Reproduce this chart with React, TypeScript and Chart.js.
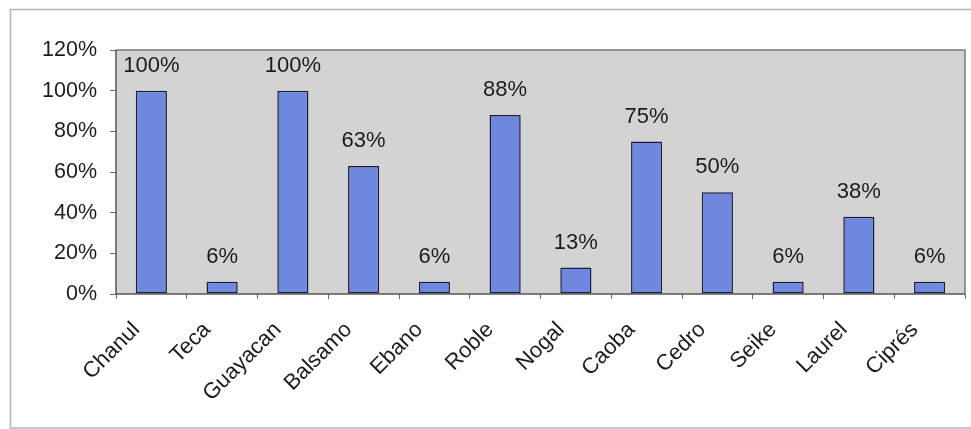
import React, { useEffect, useRef } from "react";
import { Chart, registerables } from "chart.js";

Chart.register(...registerables);

// Share of each species (percent)
const species = [
  "Chanul", "Teca", "Guayacan", "Balsamo", "Ebano", "Roble",
  "Nogal", "Caoba", "Cedro", "Seike", "Laurel", "Ciprés",
];
const shares = [100, 6, 100, 63, 6, 88, 13, 75, 50, 6, 38, 6];
const yTicks = [0, 20, 40, 60, 80, 100, 120];

const FONT = "'Liberation Sans', Arial, sans-serif";
const TEXT = "#1c1c1c";

// Page frame, grey plot background and plot border
const framePlugin = {
  id: "frame",
  beforeDraw(chart: any) {
    const { ctx, chartArea: a } = chart;
    ctx.save();
    ctx.fillStyle = "#ffffff";
    ctx.fillRect(0, 0, chart.width, chart.height);
    ctx.strokeStyle = "#b4b4b4";
    ctx.lineWidth = 1.5;
    ctx.strokeRect(10.5, 9.5, chart.width + 20, chart.height - 10.5);
    ctx.fillStyle = "#d3d3d3";
    ctx.fillRect(a.left, a.top, a.right - a.left, a.bottom - a.top);
    ctx.restore();
  },
  afterDatasetsDraw(chart: any) {
    const { ctx, chartArea: a } = chart;
    ctx.save();
    ctx.strokeStyle = "#7a7a7a";
    ctx.lineWidth = 1.5;
    ctx.beginPath();
    ctx.moveTo(a.left, a.top);
    ctx.lineTo(a.right, a.top);
    ctx.lineTo(a.right, a.bottom);
    ctx.stroke();
    ctx.strokeStyle = "#555555";
    ctx.beginPath();
    ctx.moveTo(a.left, a.top);
    ctx.lineTo(a.left, a.bottom);
    ctx.lineTo(a.right, a.bottom);
    ctx.stroke();
    ctx.restore();
  },
};

// Percent labels above each bar
const valueLabels = {
  id: "valueLabels",
  afterDatasetsDraw(chart: any) {
    const { ctx } = chart;
    const meta = chart.getDatasetMeta(0);
    ctx.save();
    ctx.font = `22px ${FONT}`;
    ctx.fillStyle = TEXT;
    ctx.textAlign = "center";
    ctx.textBaseline = "alphabetic";
    meta.data.forEach((bar: any, i: number) => {
      ctx.fillText(`${shares[i]}%`, bar.x, bar.y - 19);
    });
    ctx.restore();
  },
};

export default function App() {
  const ref = useRef<HTMLCanvasElement>(null);

  useEffect(() => {
    const chart = new Chart(ref.current!, {
      type: "bar",
      data: {
        labels: species,
        datasets: [
          {
            data: shares,
            backgroundColor: "#6e88e0",
            borderColor: "#1a1a3a",
            borderWidth: 1.5,
            borderSkipped: false,
            barPercentage: 0.44,
            categoryPercentage: 1,
          },
        ],
      },
      options: {
        animation: false,
        responsive: false,
        layout: { padding: { top: 50, right: 6, left: 0, bottom: 0 } },
        plugins: { legend: { display: false }, tooltip: { enabled: false } },
        scales: {
          x: {
            offset: true,
            grid: {
              offset: true,
              drawOnChartArea: false,
              drawTicks: true,
              tickLength: 5,
              color: "#666666",
              lineWidth: 1,
            },
            border: { display: false },
            ticks: {
              color: TEXT,
              font: { family: FONT, size: 22 },
              minRotation: 45,
              maxRotation: 45,
              padding: 18,
              labelOffset: -15,
              autoSkip: false,
            },
            afterFit(scale: any) {
              scale.height = 135;
            },
          },
          y: {
            min: 0,
            max: 120,
            afterBuildTicks(scale: any) {
              scale.ticks = yTicks.map((v) => ({ value: v }));
            },
            grid: {
              drawOnChartArea: false,
              drawTicks: true,
              tickLength: 6,
              color: "#666666",
            },
            border: { display: false },
            ticks: {
              color: TEXT,
              font: { family: FONT, size: 21.5 },
              padding: 13,
              callback: (v: any) => `${v}%`,
            },
            afterFit(scale: any) {
              scale.width = 116;
            },
          },
        },
      },
      plugins: [framePlugin, valueLabels],
    });
    return () => chart.destroy();
  }, []);

  return (
    <div style={{ position: "fixed", left: 0, top: 0, width: 971, height: 429 }}>
      <canvas ref={ref} width={971} height={429} style={{ display: "block" }} />
    </div>
  );
}
